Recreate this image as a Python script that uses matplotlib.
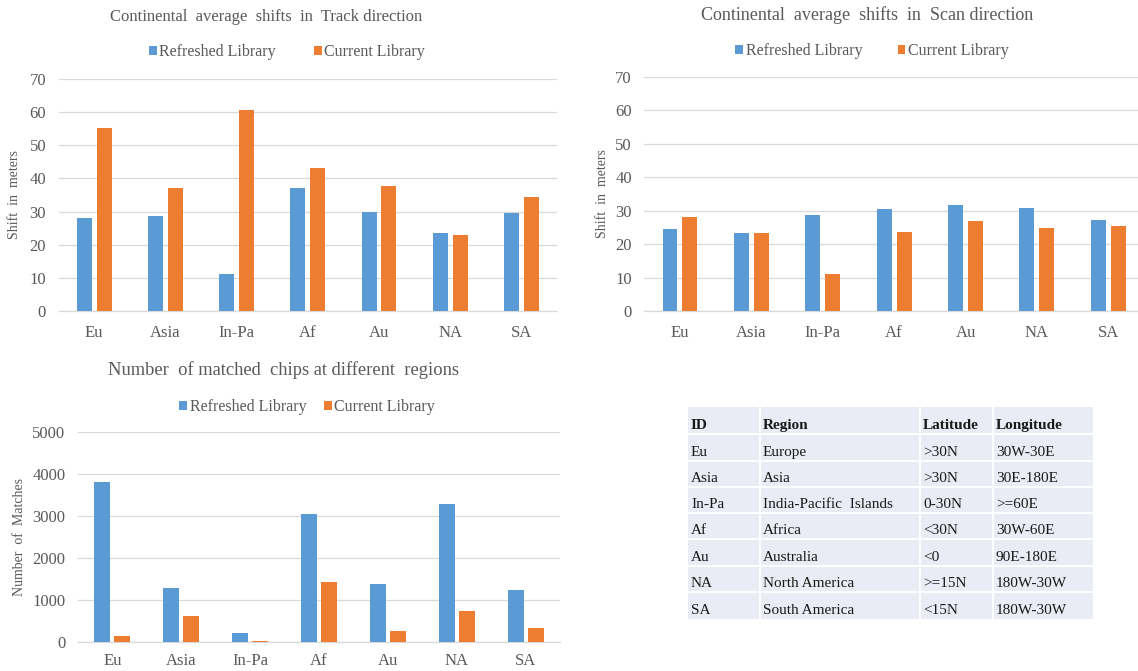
import matplotlib.pyplot as plt
import numpy as np

# data
regions = ["Eu", "Asia", "In-Pa", "Af", "Au", "NA", "SA"]
track_refreshed = [28.2, 28.7, 11.3, 37.0, 30.0, 23.6, 29.7]
track_current = [55.1, 37.0, 60.6, 43.1, 37.6, 22.9, 34.5]
scan_refreshed = [24.5, 23.3, 28.7, 30.5, 31.7, 30.8, 27.2]
scan_current = [28.1, 23.3, 11.2, 23.6, 27.0, 24.8, 25.4]
matches_refreshed = [3820, 1280, 215, 3040, 1370, 3275, 1235]
matches_current = [150, 610, 30, 1425, 270, 730, 340]
series_names = ["Refreshed Library", "Current Library"]

table_header = ["ID", "Region", "Latitude", "Longitude"]
table_ids = regions
table_names = ["Europe", "Asia", "India-Pacific  Islands", "Africa",
               "Australia", "North America", "South America"]
table_lat = [">30N", ">30N", "0-30N", "<30N", "<0", ">=15N", "<15N"]
table_lon = ["30W-30E", "30E-180E", ">=60E", "30W-60E", "90E-180E",
             "180W-30W", "180W-30W"]

BLUE = "#5B9BD5"
ORANGE = "#ED7D31"
TEXT = "#595959"
GRID = "#D9D9D9"

W, H = 1138, 671

plt.rcParams["font.family"] = ["Liberation Serif", "DejaVu Serif"]

fig = plt.figure(figsize=(W / 100, H / 100), dpi=100)


def px(x0, y0, x1, y1):
    # pixel box (left, top, right, bottom) -> figure rect
    return [x0 / W, 1 - y1 / H, (x1 - x0) / W, (y1 - y0) / H]


def bar_panel(rect, refreshed, current, ylim, step, ylabel, title,
              title_xy, title_size, legend_xy, col_space, ylabel_x,
              width=0.21, off=0.14, xpad=10, ypad=9):
    ax = fig.add_axes(rect)
    x = np.arange(len(regions))
    b1 = ax.bar(x - off, refreshed, width, color=BLUE, zorder=3)
    b2 = ax.bar(x + off, current, width, color=ORANGE, zorder=3)
    ax.set_xlim(-0.5, len(regions) - 0.5)
    ax.set_ylim(0, ylim)
    ax.set_yticks(np.arange(0, ylim + 1, step))
    ax.set_xticks(x)
    ax.set_xticklabels(regions)
    ax.tick_params(axis="both", length=0, colors=TEXT, labelsize=12)
    ax.tick_params(axis="x", pad=xpad)
    ax.tick_params(axis="y", pad=ypad)
    ax.yaxis.grid(True, color=GRID, linewidth=0.9, zorder=0)
    for s in ["top", "right", "left"]:
        ax.spines[s].set_visible(False)
    ax.spines["bottom"].set_color(GRID)
    ax.spines["bottom"].set_linewidth(0.9)
    fig.text(title_xy[0] / W, 1 - title_xy[1] / H, title, ha="center",
             va="center", fontsize=title_size, color=TEXT)
    fig.legend(handles=[b1[0], b2[0]], labels=series_names, loc="center",
               bbox_to_anchor=(legend_xy[0] / W, 1 - legend_xy[1] / H),
               ncol=2, frameon=False, fontsize=11.5, handlelength=0.5,
               handleheight=0.5, handletextpad=0.15, columnspacing=col_space,
               labelcolor=TEXT)
    fig.text(ylabel_x / W, rect[1] + rect[3] / 2, ylabel, rotation=90,
             ha="center", va="center", fontsize=10, color=TEXT)
    return ax


bar_panel(px(58.6, 79, 557, 311), track_refreshed, track_current,
          70, 10, "Shift  in  meters",
          "Continental  average  shifts  in  Track direction",
          (266, 17), 12, (287, 52), 2.4, 15)
bar_panel(px(644.3, 77, 1144, 311), scan_refreshed, scan_current,
          70, 10, "Shift  in  meters",
          "Continental  average  shifts  in  Scan direction",
          (867, 15), 13, (872, 51), 2.2, 602)
bar_panel(px(78, 432, 560, 642), matches_refreshed, matches_current,
          5000, 1000, "Number  of  Matches",
          "Number  of matched  chips at different  regions",
          (284, 370), 13.3, (307, 407), 1.1, 20,
          width=0.232, off=0.145, xpad=8)

# region table
tax = fig.add_axes(px(688, 407, 1093, 619))
tax.set_xlim(688, 1093)
tax.set_ylim(619, 407)
tax.axis("off")
tax.add_patch(plt.Rectangle((688, 407), 405, 212, facecolor="#E9ECF4",
                            edgecolor="none"))
col_x = [688, 760, 920, 993]
row_y = [407, 434, 461, 487, 513, 539, 566, 592, 619]
for cxp in col_x[1:]:
    tax.plot([cxp, cxp], [407, 619], color="white", linewidth=1.5)
for ry in row_y[1:-1]:
    tax.plot([688, 1093], [ry, ry], color="white", linewidth=1.5)
rows = [table_header] + [list(t) for t in
                         zip(table_ids, table_names, table_lat, table_lon)]
for i, row in enumerate(rows):
    yc = row_y[i] + 0.68 * (row_y[i + 1] - row_y[i])
    for j, val in enumerate(row):
        tax.text(col_x[j] + 3, yc, val, ha="left", va="center",
                 fontsize=11, color="#1a1a1a",
                 fontweight="bold" if i == 0 else "normal")

fig.savefig("out.png", dpi=100)
